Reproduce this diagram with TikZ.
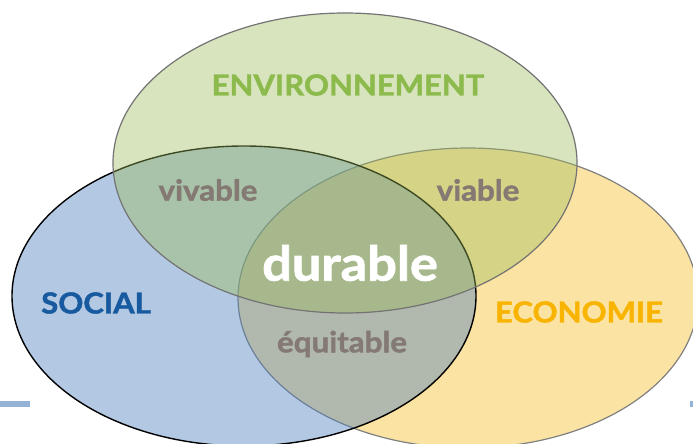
\documentclass[tikz,border=0pt]{standalone}
\usepackage{fontspec}
\setmainfont{Lato}
\newfontfamily\heavyfont{Lato}[FakeBold=1.5]
\definecolor{envfill}{RGB}{155,187,89}
\definecolor{socfill}{RGB}{79,129,189}
\definecolor{ecofill}{RGB}{247,192,50}
\definecolor{envtext}{RGB}{140,186,76}
\definecolor{soctext}{RGB}{24,90,160}
\definecolor{ecotext}{RGB}{248,180,0}
\definecolor{midtext}{RGB}{132,122,115}
\definecolor{rule}{RGB}{149,179,215}
\begin{document}
\begin{tikzpicture}[x=1pt,y=-1pt]
\tikzstyle{every node}+=[inner sep=0pt]
\tikzstyle{title}=[font=\heavyfont\bfseries\fontsize{29}{29}\selectfont,xscale=1.07]
\tikzstyle{pair}=[font=\heavyfont\bfseries\fontsize{29}{29}\selectfont,xscale=1.08,text=midtext]
\useasboundingbox (0,0) rectangle (693,444);
\clip (0,0) rectangle (693,444);
\fill [rule] (0,401) rectangle (30,406.5);
\fill [rule] (690,401) rectangle (693,406.5);
\filldraw [fill=ecofill,fill opacity=0.45,draw=black!50,line width=1.2pt] (468,298) ellipse [x radius=230pt,y radius=150pt];
\filldraw [fill=socfill,fill opacity=0.43,draw=black,line width=1.4pt] (244,296) ellipse [x radius=232pt,y radius=150pt];
\filldraw [fill=envfill,fill opacity=0.4,draw=black!55,line width=1.2pt] (345,163) ellipse [x radius=232pt,y radius=150pt];
\node [title,text=envtext] (env) at (348,85) {ENVIRONNEMENT};
\node [title,text=soctext] (soc) at (96,303) {SOCIAL};
\node [title,text=ecotext] (eco) at (579,312) {ECONOMIE};
\node [pair] (viv) at (208,190) {vivable};
\node [pair] (via) at (478,190) {viable};
\node [pair] (equ) at (342,344) {équitable};
\node [font=\heavyfont\bfseries\fontsize{48}{48}\selectfont,xscale=1.09,text=white] (dur) at (350,263) {durable};
\end{tikzpicture}
\end{document}
